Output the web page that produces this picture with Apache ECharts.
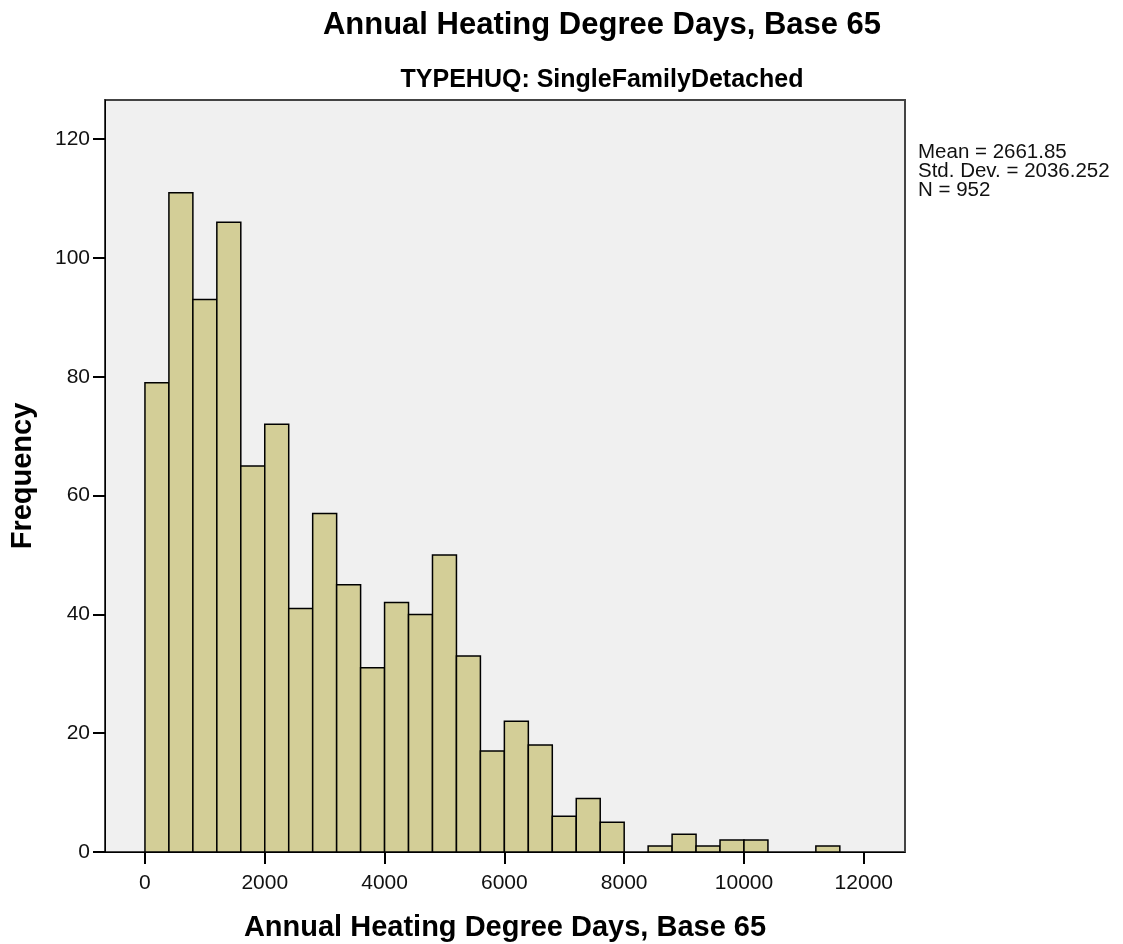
<!DOCTYPE html>
<html>
<head>
<meta charset="utf-8">
<script src="https://cdn.jsdelivr.net/npm/echarts@6/dist/echarts.min.js"></script>
<style>
  html, body { margin: 0; padding: 0; background: #fff; }
  #main { width: 1123px; height: 944px; }
</style>
</head>
<body>
<div id="main"></div>
<script>
// histogram bins (lower edge) and counts, bin width 400
var binStarts = [0, 400, 800, 1200, 1600, 2000, 2400, 2800, 3200, 3600, 4000, 4400, 4800, 5200, 5600,
  6000, 6400, 6800, 7200, 7600, 8400, 8800, 9200, 9600, 10000, 11200];
var counts = [79, 111, 93, 106, 65, 72, 41, 57, 45, 31, 42, 40, 50, 33, 17,
  22, 18, 6, 9, 5, 1, 3, 1, 2, 2, 1];
var binWidth = 400;
var xTicks = [0, 2000, 4000, 6000, 8000, 10000, 12000];
var yTicks = [0, 20, 40, 60, 80, 100, 120];
var statsLines = ['Mean = 2661.85', 'Std. Dev. = 2036.252', 'N = 952'];

var myChart = echarts.init(document.getElementById('main'));

var data = [];
for (var i = 0; i < binStarts.length; i++) {
  data.push([binStarts[i], counts[i]]);
}

var font = 'Arial, "Liberation Sans", sans-serif';

var option = {
  backgroundColor: '#ffffff',
  title: [{
    text: 'Annual Heating Degree Days, Base 65',
    left: 597, top: 5, textAlign: 'center',
    textStyle: { fontFamily: font, fontSize: 31, fontWeight: 'bold', color: '#000' }
  }, {
    text: 'TYPEHUQ: SingleFamilyDetached',
    left: 597, top: 63, textAlign: 'center',
    textStyle: { fontFamily: font, fontSize: 25, fontWeight: 'bold', color: '#000' }
  }],
  graphic: [{
    type: 'text',
    left: 918, top: 142,
    style: {
      text: statsLines.join('\n'),
      font: '20.5px ' + font,
      lineHeight: 19,
      fill: '#111'
    }
  }],
  grid: {
    left: 105, top: 100, width: 800, height: 752,
    outerBoundsMode: 'none',
    containLabel: false,
    show: true,
    backgroundColor: '#f0f0f0',
    borderColor: '#444',
    borderWidth: 2
  },
  xAxis: {
    type: 'value',
    min: -667, max: 12688,
    name: 'Annual Heating Degree Days, Base 65',
    nameLocation: 'middle',
    nameGap: 61,
    nameTextStyle: { fontFamily: font, fontSize: 29, fontWeight: 'bold', color: '#000' },
    splitLine: { show: false },
    axisLine: { show: true, onZero: false, lineStyle: { color: '#000', width: 1 } },
    axisTick: { show: true, length: 12, customValues: xTicks, lineStyle: { color: '#000', width: 2 } },
    axisLabel: {
      customValues: xTicks, margin: 21, fontFamily: font, fontSize: 21, color: '#111',
      formatter: function (v) { return String(v); }
    }
  },
  yAxis: {
    type: 'value',
    min: 0, max: 126.6,
    name: 'Frequency',
    nameLocation: 'middle',
    nameGap: 68,
    nameRotate: 90,
    nameTextStyle: { fontFamily: font, fontSize: 29, fontWeight: 'bold', color: '#000' },
    splitLine: { show: false },
    axisLine: { show: true, onZero: false, lineStyle: { color: '#000', width: 1 } },
    axisTick: { show: true, length: 12, customValues: yTicks, lineStyle: { color: '#000', width: 2 } },
    axisLabel: {
      customValues: yTicks, margin: 15, fontFamily: font, fontSize: 21, color: '#111',
      formatter: function (v) { return String(v); }
    }
  },
  series: [{
    type: 'custom',
    data: data,
    renderItem: function (params, api) {
      var x0 = api.value(0);
      var h = api.value(1);
      var p1 = api.coord([x0, h]);
      var p2 = api.coord([x0 + binWidth, 0]);
      return {
        type: 'rect',
        shape: { x: p1[0], y: p1[1], width: p2[0] - p1[0], height: p2[1] - p1[1] },
        style: { fill: '#d3ce97', stroke: '#000', lineWidth: 1.5 }
      };
    }
  }]
};

myChart.setOption(option);
</script>
</body>
</html>
